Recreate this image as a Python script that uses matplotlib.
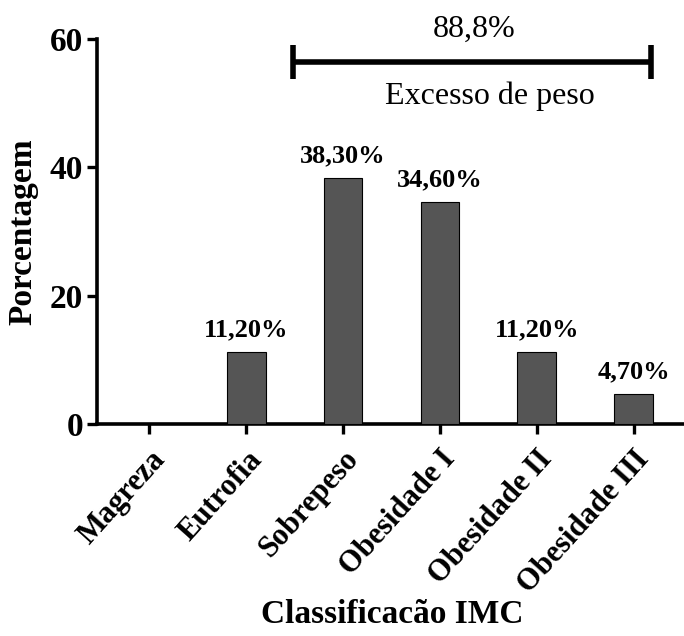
import matplotlib
matplotlib.use("Agg")
import matplotlib.pyplot as plt

categories = ["Magreza", "Eutrofia", "Sobrepeso", "Obesidade I", "Obesidade II", "Obesidade III"]
values = [0, 11.2, 38.3, 34.6, 11.2, 4.7]
bar_labels = ["", "11,20%", "38,30%", "34,60%", "11,20%", "4,70%"]
yticks = [0, 20, 40, 60]
excess_total = "88,8%"
excess_label = "Excesso de peso"

plt.rcParams["font.family"] = ["Liberation Serif", "DejaVu Serif"]

fig = plt.figure(figsize=(6.84, 6.36), dpi=100)
ax = fig.add_axes([0.142, 0.333, 0.858, 0.606])

x = list(range(len(categories)))
ax.bar(x, values, width=0.4, color="#555555", edgecolor="black", linewidth=0.8, zorder=3)

for xi, v, lab in zip(x, values, bar_labels):
    if lab:
        ax.annotate(lab, (xi, v), xytext=(0, 8), textcoords="offset points",
                    ha="center", va="bottom", fontsize=19, fontweight="bold")

ax.set_xlim(-0.54, 5.52)
ax.set_ylim(0, 60)
ax.set_yticks(yticks)
ax.set_yticklabels([str(t) for t in yticks], fontsize=24, fontweight="bold")
ax.set_xticks(x)
ax.set_xticklabels(categories, fontsize=22, fontweight="bold", rotation=48,
                   ha="right", rotation_mode="anchor")

for s in ["top", "right"]:
    ax.spines[s].set_visible(False)
for s in ["left", "bottom"]:
    ax.spines[s].set_linewidth(2.6)
ax.tick_params(axis="both", direction="out", length=7, width=2.4, pad=3)
ax.tick_params(axis="x", pad=8)

ax.set_ylabel("Porcentagem", fontsize=24, fontweight="bold", labelpad=8)
fig.text(0.573, 0.034, "Classificacão IMC", ha="center", va="center",
         fontsize=24, fontweight="bold")

# bracket for excess weight
bx0, bx1, by = 1.48, 5.18, 56.4
ax.plot([bx0, bx1], [by, by], color="black", lw=4, clip_on=False, solid_capstyle="butt")
ax.plot([bx0, bx0], [by - 2.7, by + 2.7], color="black", lw=4, clip_on=False, solid_capstyle="butt")
ax.plot([bx1, bx1], [by - 2.7, by + 2.7], color="black", lw=4, clip_on=False, solid_capstyle="butt")
ax.text(3.35, 61.4, excess_total, ha="center", va="center", fontsize=23)
ax.text(3.52, 51.0, excess_label, ha="center", va="center", fontsize=23)

fig.savefig("out.png", dpi=100)
